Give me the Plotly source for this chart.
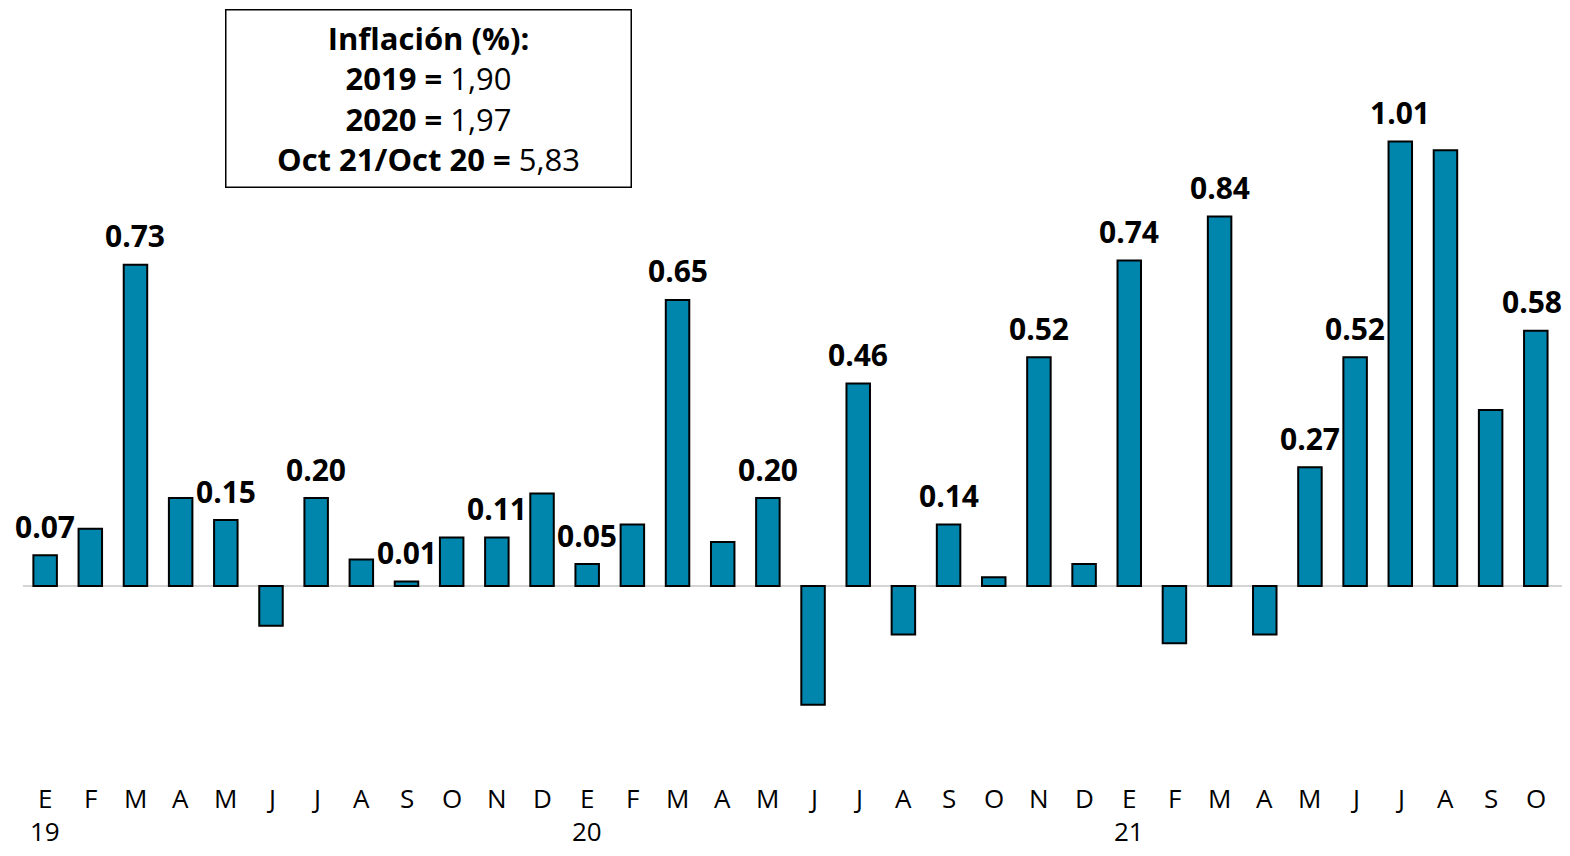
import plotly.graph_objects as go

months = ["E","F","M","A","M","J","J","A","S","O","N","D",
          "E","F","M","A","M","J","J","A","S","O","N","D",
          "E","F","M","A","M","J","J","A","S","O"]
years = {0: "19", 12: "20", 24: "21"}
values = [0.07, 0.13, 0.73, 0.20, 0.15, -0.09, 0.20, 0.06, 0.01, 0.11, 0.11, 0.21,
          0.05, 0.14, 0.65, 0.10, 0.20, -0.27, 0.46, -0.11, 0.14, 0.02, 0.52, 0.05,
          0.74, -0.13, 0.84, -0.11, 0.27, 0.52, 1.01, 0.99, 0.40, 0.58]
labels = ["0.07", "", "0.73", "", "0.15", "", "0.20", "", "0.01", "", "0.11", "",
          "0.05", "", "0.65", "", "0.20", "", "0.46", "", "0.14", "", "0.52", "",
          "0.74", "", "0.84", "", "0.27", "0.52", "1.01", "", "", "0.58"]

FONT = "Open Sans"
xs = list(range(len(values)))

fig = go.Figure()
fig.add_trace(go.Bar(
    x=xs, y=values, width=0.52,
    marker=dict(color="#0086ad", line=dict(color="black", width=2)),
    hoverinfo="skip",
))

annotations = []
last = len(values) - 1
for i, (v, t) in enumerate(zip(values, labels)):
    if t:
        annotations.append(dict(x=i, y=max(v, 0), xref="x", yref="y", text=f"<b>{t}</b>",
                                showarrow=False, yanchor="middle", yshift=29,
                                xshift=-4 if i == last else 0,
                                font=dict(family=FONT, size=30, color="black")))
for i, m in enumerate(months):
    annotations.append(dict(x=i, y=-0.0423, xref="x", yref="paper", text=m, showarrow=False,
                            yanchor="middle",
                            font=dict(family=FONT, size=26, color="black")))
for i, yr in years.items():
    annotations.append(dict(x=i, y=-0.0860, xref="x", yref="paper", text=yr, showarrow=False,
                            yanchor="middle",
                            font=dict(family=FONT, size=26, color="black")))

box_text = ("<b>Inflación (%):</b><br><b>2019 =</b> 1,90<br><b>2020 =</b> 1,97"
            "<br><b>Oct 21/Oct 20 =</b> 5,83")
annotations.append(dict(x=8.476, y=1.109, xref="x", yref="y", text=box_text, showarrow=False,
                        xanchor="center", yanchor="middle", align="center",
                        width=402, height=174, borderpad=1,
                        bordercolor="black", borderwidth=1.5, bgcolor="white",
                        font=dict(family=FONT, size=31, color="black")))

fig.update_layout(
    width=1554, height=840,
    margin=dict(l=15, r=0, t=2, b=82),
    plot_bgcolor="white", paper_bgcolor="white",
    showlegend=False,
    annotations=annotations,
    xaxis=dict(range=[-0.49, 33.58], showticklabels=False, showgrid=False,
               zeroline=False, showline=False, ticks=""),
    yaxis=dict(range=[-0.409, 1.309], showticklabels=False, showgrid=False,
               zeroline=True, zerolinecolor="#d4d4d4", zerolinewidth=2, showline=False),
    bargap=0.48,
)

fig.write_html("out.html")
